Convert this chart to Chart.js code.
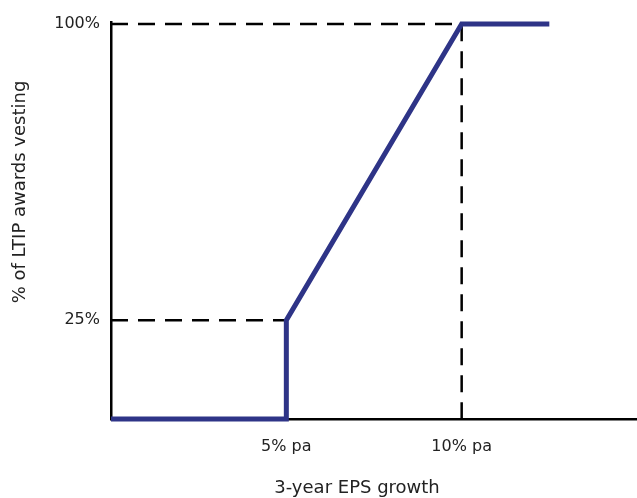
<!DOCTYPE html>
<html>
<head>
<meta charset="utf-8">
<script src="https://cdn.jsdelivr.net/npm/chart.js@4"></script>
<style>
  html, body { margin: 0; padding: 0; background: #fff; }
  #wrap { width: 637px; height: 498px; }
</style>
</head>
<body>
<div id="wrap"><canvas id="vestingChart"></canvas></div>
<script>
// vesting schedule: EPS growth (% pa) -> % of award vesting
const growthPct = [0, 5, 5, 10, 12.5];
const vestingPct = [0, 0, 25, 100, 100];

// reference guides drawn as dashed lines
const upperGuideX = [0, 10, 10];
const upperGuideY = [100, 100, 0];
const lowerGuideX = [0, 5];
const lowerGuideY = [25, 25];

const xTickValues = [5, 10];
const xTickLabels = ["5% pa", "10% pa"];
const yTickValues = [25, 100];
const yTickLabels = ["25%", "100%"];

const xAxisTitle = "3-year EPS growth";
const yAxisTitle = "% of LTIP awards vesting";

const FONT = "'DejaVu Sans', sans-serif";
const TEXT_COLOR = "#222";
const GUIDE_DASH = [17, 10];

const toPoints = (xs, ys) => xs.map((x, i) => ({ x: x, y: ys[i] }));

// axis titles sit off-centre from the plot area, so draw them by hand
const axisTitles = {
    id: "axisTitles",
    afterDraw(chart) {
        const ctx = chart.ctx;
        ctx.save();
        ctx.font = "18px " + FONT;
        ctx.fillStyle = TEXT_COLOR;
        ctx.textAlign = "center";
        ctx.textBaseline = "middle";
        ctx.fillText(xAxisTitle, 357, 488);
        ctx.translate(20, 192);
        ctx.rotate(-Math.PI / 2);
        ctx.fillText(yAxisTitle, 0, 0);
        ctx.restore();
    }
};

Chart.defaults.font.family = FONT;
Chart.defaults.font.size = 16;
Chart.defaults.color = TEXT_COLOR;

new Chart(document.getElementById("vestingChart"), {
    type: "line",
    data: {
        datasets: [{
            data: toPoints(growthPct, vestingPct),
            borderColor: "#2e3487",
            borderWidth: 5,
            pointRadius: 0,
            tension: 0,
            clip: false,
            order: 0
        }, {
            data: toPoints(upperGuideX, upperGuideY),
            borderColor: "#000",
            borderWidth: 2.5,
            borderDash: GUIDE_DASH,
            pointRadius: 0,
            clip: false,
            order: 1
        }, {
            data: toPoints(lowerGuideX, lowerGuideY),
            borderColor: "#000",
            borderWidth: 2.5,
            borderDash: GUIDE_DASH,
            pointRadius: 0,
            clip: false,
            order: 1
        }]
    },
    plugins: [axisTitles],
    options: {
        responsive: true,
        maintainAspectRatio: false,
        animation: false,
        layout: {
            padding: { top: 22, right: 0 }
        },
        plugins: {
            legend: { display: false },
            tooltip: { enabled: false }
        },
        scales: {
            x: {
                type: "linear",
                min: 0,
                max: 15,
                afterFit: (scale) => { scale.height = 79; },
                afterBuildTicks: (scale) => {
                    scale.ticks = xTickValues.map((v) => ({ value: v }));
                },
                ticks: {
                    padding: 18,
                    maxRotation: 0,
                    callback: (value) => xTickLabels[xTickValues.indexOf(value)]
                },
                grid: { display: false, drawTicks: false },
                border: { display: true, color: "#000", width: 2.5 }
            },
            y: {
                min: 0,
                max: 100.5,
                afterFit: (scale) => { scale.width = 111; },
                afterBuildTicks: (scale) => {
                    scale.ticks = yTickValues.map((v) => ({ value: v }));
                },
                ticks: {
                    padding: 11,
                    callback: (value) => yTickLabels[yTickValues.indexOf(value)]
                },
                grid: { display: false, drawTicks: false },
                border: { display: true, color: "#000", width: 2.5 }
            }
        }
    }
});
</script>
</body>
</html>
